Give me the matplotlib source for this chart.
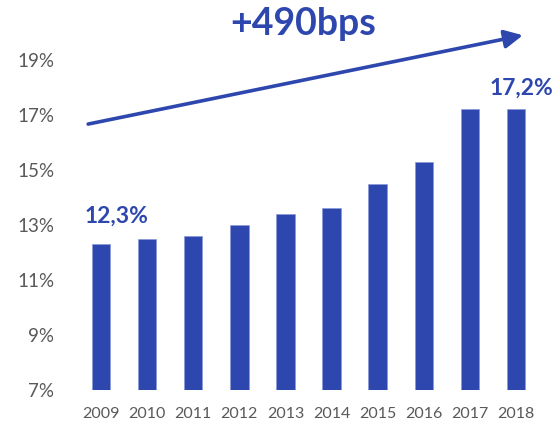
import matplotlib
matplotlib.use("Agg")
import matplotlib.pyplot as plt

years = ["2009", "2010", "2011", "2012", "2013", "2014", "2015", "2016", "2017", "2018"]
values = [12.3, 12.5, 12.6, 13.0, 13.4, 13.6, 14.5, 15.3, 17.2, 17.2]
yticks = [7, 9, 11, 13, 15, 17, 19]
ytick_labels = ["7%", "9%", "11%", "13%", "15%", "17%", "19%"]
first_label = "12,3%"
last_label = "17,2%"
headline = "+490bps"

BLUE = "#2E47AE"
GRAY = "#595959"
plt.rcParams['font.family'] = ['Lato', 'DejaVu Sans']

W, H = 556, 424
fig = plt.figure(figsize=(W / 100, H / 100), dpi=100)
ax_l, ax_r = 78, 539
ax_b, ax_t = 390, 5
ax = fig.add_axes([ax_l / W, (H - ax_b) / H, (ax_r - ax_l) / W, (ax_b - ax_t) / H])

x = list(range(len(years)))
ax.bar(x, values, width=0.40, color=BLUE, edgecolor="#8A98D6", linewidth=0.5, bottom=0)
ax.set_xlim(-0.5, len(years) - 0.5)
ax.set_ylim(7, 21)
ax.set_yticks(yticks)
ax.set_yticklabels(ytick_labels, fontsize=13.5, color=GRAY)
ax.set_xticks(x)
ax.set_xticklabels(years, fontsize=11.5, color=GRAY)
ax.tick_params(axis='both', length=0)
ax.tick_params(axis='y', pad=17)
ax.tick_params(axis='x', pad=12)
for s in ax.spines.values():
    s.set_visible(False)

ax.text(x[0] + 0.33, values[0] + 0.8, first_label, ha='center', va='baseline',
        fontsize=16.5, fontweight='bold', color=BLUE)
ax.text(x[-1] + 0.11, values[-1] + 0.55, last_label, ha='center', va='baseline',
        fontsize=16.5, fontweight='bold', color=BLUE)

ax.annotate("", xy=(9.15, 19.9), xytext=(-0.28, 16.67),
            arrowprops=dict(arrowstyle="-|>,head_length=1.1,head_width=0.55", color=BLUE, lw=2.6,
                            shrinkA=0, shrinkB=0), annotation_clip=False)
fig.text(303 / W, 1 - 24 / H, headline, ha='center', va='center',
         fontsize=27, fontweight='bold', color=BLUE)

fig.savefig("out.png", dpi=100)
